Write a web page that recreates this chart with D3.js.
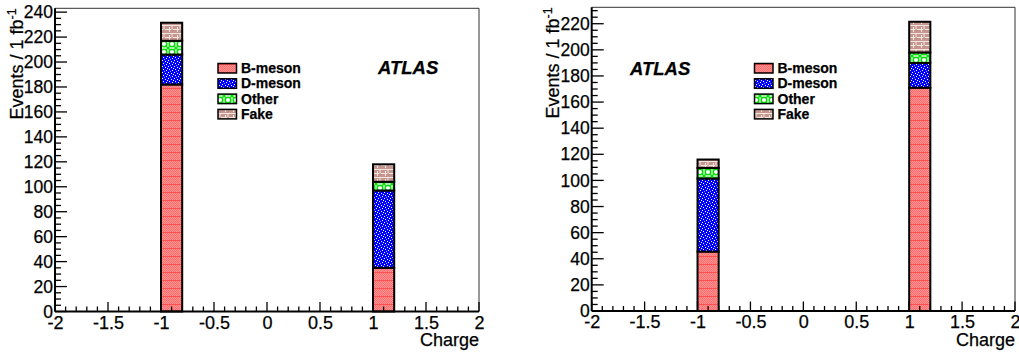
<!DOCTYPE html>
<html><head><meta charset="utf-8">
<script src="https://cdn.jsdelivr.net/npm/d3@7/dist/d3.min.js"></script>
<style>
html,body{margin:0;padding:0;background:#fff;}
svg text{font-family:"Liberation Sans",Arial,Helvetica,sans-serif;fill:#000;stroke:#000;stroke-width:0.25px;}
</style></head><body>
<svg id="c" width="1019" height="352"></svg>
<script>
// ---- data ----
const binLow = [-1, 1];          // lower edges of the filled charge bins
const binWidth = 0.2;
const components = ["B-meson", "D-meson", "Other", "Fake"];
// panel 1
const p1_B = [182, 35];
const p1_D = [24, 62];
const p1_Other = [11, 7];
const p1_Fake = [14.5, 14];
// panel 2
const p2_B = [45.5, 171];
const p2_D = [56, 19];
const p2_Other = [8, 8];
const p2_Fake = [6.5, 23.5];
const xTicks = [-2, -1.5, -1, -0.5, 0, 0.5, 1, 1.5, 2];
const xTickLabels = ["-2", "-1.5", "-1", "-0.5", "0", "0.5", "1", "1.5", "2"];
const yTitle = "Events / 1 fb";
const yTitleSup = "-1";
const xTitle = "Charge";
const atlasLabel = "ATLAS";

const svg = d3.select("#c");
const defs = svg.append("defs");

// ---- fill patterns (ROOT-style) ----
function patB(){
  const p = defs.append("pattern").attr("id","pB").attr("patternUnits","userSpaceOnUse").attr("width",4).attr("height",8);
  p.append("rect").attr("width",4).attr("height",8).attr("fill","#ff9494");
  for(let y=0;y<8;y++) for(let x=0;x<4;x++) if((x+y)%2===0)
    p.append("rect").attr("x",x).attr("y",y).attr("width",1).attr("height",1).attr("fill","#ff6a6a");
  p.append("rect").attr("x",0).attr("y",0).attr("width",4).attr("height",1).attr("fill","#ff5050");
}
function patD(){
  const p = defs.append("pattern").attr("id","pD").attr("patternUnits","userSpaceOnUse").attr("width",6).attr("height",6);
  p.append("rect").attr("width",6).attr("height",6).attr("fill","#0000ff");
  [[0,0],[3,1],[1,3],[4,4],[5,2]].forEach(([x,y])=>
    p.append("rect").attr("x",x).attr("y",y).attr("width",1).attr("height",1).attr("fill","#ffffff"));
  p.append("rect").attr("x",2).attr("y",5).attr("width",1).attr("height",1).attr("fill","#9aa0ff");
}
function patO(){
  const p = defs.append("pattern").attr("id","pO").attr("patternUnits","userSpaceOnUse").attr("width",8).attr("height",8);
  p.append("rect").attr("width",8).attr("height",8).attr("fill","#ffffff");
  p.append("circle").attr("cx",4).attr("cy",4).attr("r",2.8).attr("fill","none").attr("stroke","#00e000").attr("stroke-width",1.5);
  p.append("path").attr("d","M0,0L1.8,1.8M8,0L6.2,1.8M0,8L1.8,6.2M8,8L6.2,6.2").attr("stroke","#00e000").attr("stroke-width",1.5);
}
function patF(){
  const p = defs.append("pattern").attr("id","pF").attr("patternUnits","userSpaceOnUse").attr("width",8).attr("height",8);
  p.append("rect").attr("width",8).attr("height",8).attr("fill","#c4968e");
  p.append("path").attr("d","M0,1.5H8M4,1.5V5.5M0,5.5H3M5,5.5H8M1.5,3V8").attr("stroke","#f4e6e3").attr("stroke-width",1);
}
patB(); patD(); patO(); patF();
const fills = ["url(#pB)","url(#pD)","url(#pO)","url(#pF)"];

const panels = [
  {series:[p1_B,p1_D,p1_Other,p1_Fake], x0:55, x1:479, yTop:8.3, yBot:311.5,
   titleX:22.5, legX:218, legY:63.5, atlasX:378, atlasY:74},
  {series:[p2_B,p2_D,p2_Other,p2_Fake], x0:591.7, x1:1015, yTop:7.3, yBot:311,
   titleX:559, legX:754.5, legY:63.5, atlasX:630, atlasY:75}
];

panels.forEach(P=>{
  const g = svg.append("g");
  const totals = binLow.map((_,i)=>d3.sum(P.series,s=>s[i]));
  const ymax = 1.05*d3.max(totals);
  const x = d3.scaleLinear().domain([-2,2]).range([P.x0,P.x1]);
  const y = d3.scaleLinear().domain([0,ymax]).range([P.yBot,P.yTop]);

  // frame top/right
  g.append("path").attr("d",`M${P.x0},${P.yTop}H${P.x1}V${P.yBot}`).attr("fill","none").attr("stroke","#333").attr("stroke-width",1);

  // stacked bars
  binLow.forEach((b,i)=>{
    let base = 0;
    P.series.forEach((s,k)=>{
      const v = s[i];
      g.append("rect").attr("x",x(b)).attr("width",x(b+binWidth)-x(b))
        .attr("y",y(base+v)).attr("height",y(base)-y(base+v))
        .attr("fill",fills[k]).attr("stroke","#000").attr("stroke-width",2);
      base += v;
    });
  });

  // x axis
  const xAxis = d3.axisBottom(x).tickValues(xTicks).tickFormat((d,i)=>xTickLabels[i]).tickSize(0).tickPadding(0);
  const xa = g.append("g").attr("transform",`translate(0,${P.yBot})`).call(xAxis);
  xa.select(".domain").remove();
  xa.selectAll("text").attr("dy",null).attr("y",17).style("font-size","18px").attr("fill","#000");
  // x ticks (inward)
  const xMinor = d3.range(-2,2.0001,0.1);
  g.selectAll(null).data(xMinor).enter().append("line")
    .attr("x1",d=>x(d)).attr("x2",d=>x(d))
    .attr("y1",P.yBot).attr("y2",d=>P.yBot-(Math.abs(d*2-Math.round(d*2))<1e-6?9.5:5))
    .attr("stroke","#000").attr("stroke-width",1.3);
  g.append("line").attr("x1",P.x0).attr("x2",P.x1).attr("y1",P.yBot).attr("y2",P.yBot).attr("stroke","#000").attr("stroke-width",2);

  // y axis
  const yMajor = d3.range(0,ymax,20);
  const yAxis = d3.axisLeft(y).tickValues(yMajor).tickFormat(d3.format("d")).tickSize(0).tickPadding(2);
  const ya = g.append("g").attr("transform",`translate(${P.x0},0)`).call(yAxis);
  ya.select(".domain").remove();
  ya.selectAll("text").style("font-size","17.5px").attr("fill","#000");
  const yMinor = d3.range(0,ymax,5);
  g.selectAll(null).data(yMinor).enter().append("line")
    .attr("y1",d=>y(d)).attr("y2",d=>y(d))
    .attr("x1",P.x0).attr("x2",d=>P.x0+(d%20===0?12:6))
    .attr("stroke","#000").attr("stroke-width",1.3);
  g.append("line").attr("x1",P.x0).attr("x2",P.x0).attr("y1",P.yTop).attr("y2",P.yBot).attr("stroke","#000").attr("stroke-width",2);

  // titles
  const yt = g.append("text").attr("transform",`translate(${P.titleX},${P.yTop}) rotate(-90)`)
    .attr("text-anchor","end").style("font-size","18px");
  yt.append("tspan").text(yTitle);
  yt.append("tspan").attr("dy",-7).style("font-size","12.5px").text(yTitleSup);
  g.append("text").attr("x",P.x1).attr("y",346).attr("text-anchor","end").style("font-size","18px").text(xTitle);

  // ATLAS
  g.append("text").attr("x",P.atlasX).attr("y",P.atlasY).style("font-size","18.5px")
    .style("font-weight","bold").style("font-style","italic").text(atlasLabel);

  // legend
  components.forEach((c,k)=>{
    const ty = P.legY + k*15.3;
    g.append("rect").attr("x",P.legX).attr("y",ty).attr("width",18.5).attr("height",9.5)
      .attr("fill",fills[k]).attr("stroke","#000").attr("stroke-width",1.5);
    g.append("text").attr("x",P.legX+23).attr("y",ty+9.5).style("font-size","14px").style("font-weight","bold").text(c);
  });
});
</script>
</body></html>
